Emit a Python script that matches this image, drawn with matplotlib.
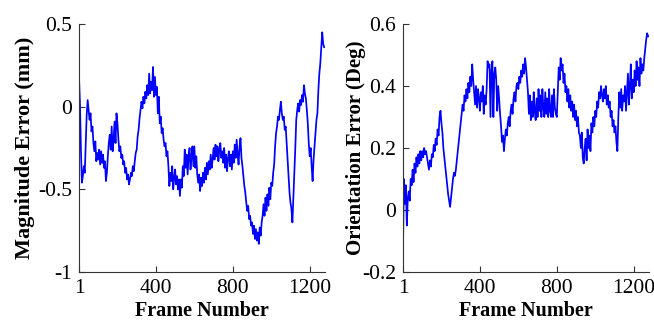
import numpy as np
import matplotlib
matplotlib.use('Agg')
import matplotlib.pyplot as plt

plt.rcParams['font.family'] = ['Liberation Serif', 'DejaVu Serif']

# sampled every 5 frames, starting at frame 1
step = 5

magnitude_error = [
    0.18, 0.02, -0.26, -0.46, -0.42, -0.36, -0.40, -0.22, -0.05, 0.04,
    -0.02, -0.08, -0.04, -0.15, -0.12, -0.22, -0.27, -0.21, -0.33, -0.28,
    -0.32, -0.26, -0.35, -0.27, -0.34, -0.29, -0.37, -0.33, -0.45, -0.40,
    -0.30, -0.22, -0.17, -0.26, -0.12, -0.27, -0.20, -0.09, -0.22, -0.04,
    -0.10, -0.20, -0.27, -0.24, -0.31, -0.29, -0.35, -0.33, -0.40, -0.37,
    -0.44, -0.41, -0.47, -0.44, -0.40, -0.42, -0.36, -0.39, -0.33, -0.28,
    -0.26, -0.18, -0.14, -0.07, -0.02, 0.03, -0.01, 0.06, 0.02, 0.09,
    0.05, 0.13, 0.07, 0.20, 0.08, 0.15, 0.10, 0.24, 0.06, 0.18,
    0.07, 0.12, -0.04, 0.06, -0.10, -0.06, -0.16, -0.13, -0.20, -0.24,
    -0.22, -0.30, -0.27, -0.36, -0.48, -0.40, -0.45, -0.36, -0.50, -0.43,
    -0.38, -0.47, -0.42, -0.50, -0.44, -0.54, -0.44, -0.49, -0.36, -0.42,
    -0.26, -0.37, -0.29, -0.41, -0.30, -0.25, -0.38, -0.30, -0.24, -0.36,
    -0.24, -0.37, -0.30, -0.41, -0.46, -0.41, -0.51, -0.43, -0.48, -0.40,
    -0.46, -0.37, -0.44, -0.34, -0.41, -0.33, -0.38, -0.29, -0.37, -0.32,
    -0.25, -0.32, -0.23, -0.30, -0.24, -0.33, -0.26, -0.22, -0.31, -0.27,
    -0.34, -0.25, -0.37, -0.29, -0.39, -0.31, -0.27, -0.36, -0.29, -0.38,
    -0.27, -0.34, -0.23, -0.31, -0.20, -0.29, -0.35, -0.24, -0.19, -0.31,
    -0.36, -0.42, -0.48, -0.52, -0.58, -0.63, -0.60, -0.68, -0.66, -0.72,
    -0.70, -0.77, -0.72, -0.80, -0.74, -0.81, -0.76, -0.83, -0.73, -0.78,
    -0.70, -0.66, -0.59, -0.66, -0.55, -0.63, -0.53, -0.60, -0.49, -0.56,
    -0.46, -0.48, -0.40, -0.35, -0.24, -0.16, -0.12, -0.06, -0.08, -0.02,
    0.03, -0.04, -0.08, -0.06, -0.14, -0.12, -0.22, -0.32, -0.42, -0.52,
    -0.58, -0.62, -0.70, -0.55, -0.40, -0.25, -0.08, -0.02, 0.02, -0.03,
    0.04, 0.01, 0.07, 0.03, 0.13, 0.08, 0.05, -0.02, -0.10, -0.22,
    -0.30, -0.25, -0.36, -0.45, -0.32, -0.24, -0.16, -0.08, -0.04, 0.10,
    0.20, 0.26, 0.36, 0.45, 0.38, 0.36,
]

orientation_error = [
    -0.12, 0.10, 0.02, 0.08, -0.05, 0.04, 0.06, 0.03, 0.10, 0.08,
    0.13, 0.09, 0.15, 0.12, 0.17, 0.14, 0.18, 0.15, 0.19, 0.16,
    0.19, 0.17, 0.20, 0.18, 0.19, 0.17, 0.15, 0.13, 0.16, 0.14,
    0.18, 0.17, 0.21, 0.19, 0.23, 0.21, 0.26, 0.24, 0.30, 0.32,
    0.28, 0.25, 0.20, 0.17, 0.14, 0.11, 0.08, 0.05, 0.03, 0.01,
    0.04, 0.07, 0.10, 0.12, 0.11, 0.13, 0.16, 0.19, 0.22, 0.25,
    0.28, 0.31, 0.34, 0.32, 0.37, 0.35, 0.39, 0.36, 0.41, 0.38,
    0.43, 0.40, 0.47, 0.42, 0.38, 0.34, 0.40, 0.33, 0.39, 0.36,
    0.32, 0.38, 0.35, 0.40, 0.31, 0.37, 0.34, 0.39, 0.48, 0.46,
    0.47, 0.30, 0.45, 0.48, 0.30, 0.44, 0.46, 0.42, 0.32, 0.40,
    0.36, 0.31, 0.27, 0.22, 0.24, 0.19, 0.23, 0.26, 0.24, 0.28,
    0.30, 0.27, 0.32, 0.34, 0.31, 0.36, 0.38, 0.35, 0.40, 0.41,
    0.39, 0.43, 0.41, 0.45, 0.43, 0.47, 0.44, 0.49, 0.46, 0.42,
    0.38, 0.31, 0.37, 0.29, 0.35, 0.30, 0.38, 0.32, 0.29, 0.36,
    0.30, 0.39, 0.32, 0.37, 0.30, 0.39, 0.33, 0.30, 0.38, 0.31,
    0.36, 0.30, 0.39, 0.32, 0.30, 0.37, 0.30, 0.39, 0.33, 0.31,
    0.30, 0.38, 0.46, 0.42, 0.49, 0.45, 0.47, 0.41, 0.44, 0.38,
    0.40, 0.35, 0.39, 0.33, 0.37, 0.32, 0.35, 0.30, 0.34, 0.29,
    0.32, 0.27, 0.30, 0.25, 0.24, 0.20, 0.25, 0.17, 0.15, 0.20,
    0.23, 0.16, 0.26, 0.20, 0.24, 0.19, 0.28, 0.25, 0.30, 0.27,
    0.32, 0.30, 0.35, 0.33, 0.38, 0.36, 0.40, 0.37, 0.35, 0.39,
    0.36, 0.40, 0.34, 0.37, 0.33, 0.35, 0.30, 0.32, 0.27, 0.29,
    0.25, 0.27, 0.22, 0.19, 0.30, 0.38, 0.33, 0.39, 0.32, 0.37,
    0.35, 0.40, 0.32, 0.38, 0.44, 0.34, 0.40, 0.47, 0.36, 0.42,
    0.38, 0.45, 0.40, 0.48, 0.42, 0.46, 0.40, 0.49, 0.44, 0.47,
    0.45, 0.49, 0.52, 0.55, 0.57, 0.56,
]

xticks = [1, 400, 800, 1200]
mag_yticks = [-1, -0.5, 0, 0.5]
mag_ylabels = ['-1', '-0.5', '0', '0.5']
ori_yticks = [-0.2, 0, 0.2, 0.4, 0.6]
ori_ylabels = ['-0.2', '0', '0.2', '0.4', '0.6']

frames_mag = 1 + step * np.arange(len(magnitude_error))
frames_ori = 1 + step * np.arange(len(orientation_error))

fig = plt.figure(figsize=(6.54, 3.24), dpi=100)
ax1 = fig.add_axes([0.1208, 0.1605, 0.376, 0.7654])
ax2 = fig.add_axes([0.6162, 0.1605, 0.376, 0.7654])

panels = [
    (ax1, frames_mag, magnitude_error, (-1, 0.5), mag_yticks, mag_ylabels,
     'Magnitude Error (mm)', 16, 2),
    (ax2, frames_ori, orientation_error, (-0.2, 0.6), ori_yticks, ori_ylabels,
     'Orientation Error (Deg)', 15, -2.5),
]

for ax, x, y, ylim, yt, ytl, ylabel, ysize, ypad in panels:
    ax.plot(x, y, color='#0000ff', linewidth=1.25)
    ax.set_xlim(1, 1280)
    ax.set_ylim(*ylim)
    ax.set_xticks(xticks)
    ax.set_xticklabels([str(t) for t in xticks])
    ax.set_yticks(yt)
    ax.set_yticklabels(ytl)
    ax.spines['top'].set_visible(False)
    ax.spines['right'].set_visible(False)
    for s in ('left', 'bottom'):
        ax.spines[s].set_color('#333333')
        ax.spines[s].set_linewidth(0.8)
    ax.tick_params(direction='in', length=4, width=0.8, colors='#333333',
                   labelcolor='black', labelsize=15.5, pad=5)
    ax.set_xlabel('Frame Number', fontsize=14.5, fontweight='bold', labelpad=2.5)
    ax.set_ylabel(ylabel, fontsize=ysize, fontweight='bold', labelpad=ypad)

fig.savefig('out.png', dpi=100)
